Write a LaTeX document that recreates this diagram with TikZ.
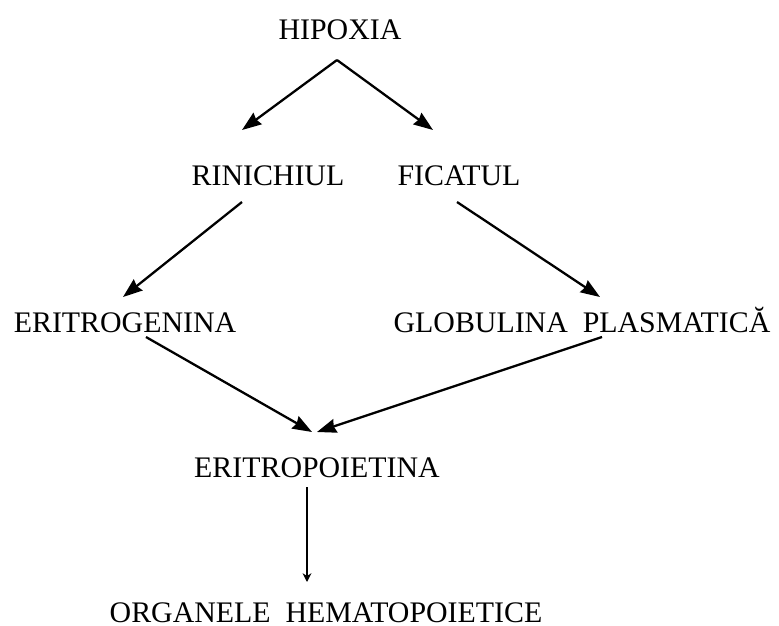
\documentclass[tikz,border=0pt]{standalone}
\usepackage{fontspec}
\setmainfont{Liberation Serif}
\usetikzlibrary{positioning, arrows.meta}

\begin{document}
\begin{tikzpicture}[x=0.02cm, y=0.02cm,
  lbl/.style={anchor=base, inner sep=0pt, font=\fontsize{17}{20}\selectfont},
  arr/.style={line width=1.3pt, -{Stealth[length=11pt, width=8pt, inset=1pt]}},
  tiny/.style={line width=1.3pt, -{Stealth[length=5pt, width=5pt]}}]
\useasboundingbox (0,0) rectangle (779,-626);
\node[lbl] (hip) at (340,-39) {HIPOXIA};
\node[lbl] (rin) at (268,-185) {RINICHIUL};
\node[lbl] (fic) at (459,-185) {FICATUL};
\node[lbl] (erg) at (125,-332) {ERITROGENINA};
\node[lbl] (glob) at (582,-332) {GLOBULINA\hspace{0.5em}PLASMATICĂ};
\node[lbl] (epo) at (317,-477) {ERITROPOIETINA};
\node[lbl] (org) at (326,-622) {ORGANELE\hspace{0.5em}HEMATOPOIETICE};
\draw[arr] ([shift={(-3,-21)}]hip.base) -- ([shift={(-26,55)}]rin.base);
\draw[arr] ([shift={(-3,-21)}]hip.base) -- ([shift={(-26,55)}]fic.base);
\draw[arr] ([shift={(-26,-17)}]rin.base) -- ([shift={(-2,35)}]erg.base);
\draw[arr] ([shift={(-2,-17)}]fic.base) -- ([shift={(18,35)}]glob.base);
\draw[arr] ([shift={(21,-5)}]erg.base) -- ([shift={(-5,45)}]epo.base);
\draw[arr] ([shift={(20,-5)}]glob.base) -- ([shift={(0,45)}]epo.base);
\draw[tiny] ([shift={(-10,-10)}]epo.base) -- ([shift={(-19,40)}]org.base);
\end{tikzpicture}
\end{document}
